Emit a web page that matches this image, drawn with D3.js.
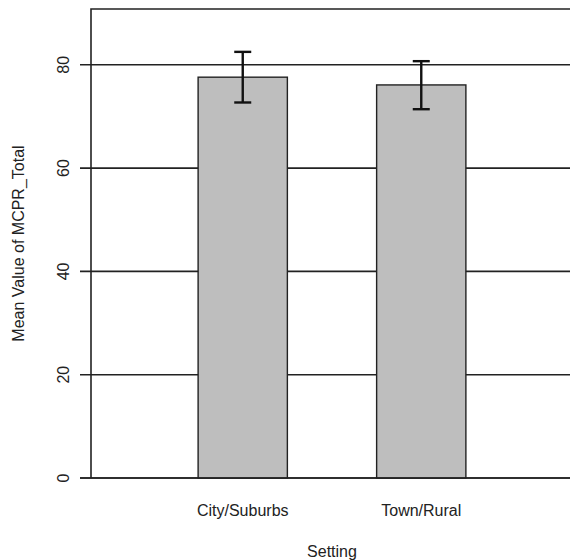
<!DOCTYPE html>
<html lang="en">
<head>
    <meta charset="UTF-8">
    <title>Mean Value of MCPR_Total by Setting</title>
    <script src="https://d3js.org/d3.v7.min.js"></script>
    <style>
        body {
            margin: 0;
            background-color: #fff;
            overflow: hidden;
        }

        text {
            font-family: "Liberation Sans", Arial, sans-serif;
            font-size: 16px;
            fill: #222;
        }

        .grid line, .frame {
            stroke: #222;
            stroke-width: 1.6;
        }

        .bar {
            fill: #bebebe;
            stroke: #222;
            stroke-width: 1.4;
        }

        .err {
            stroke: #111;
            stroke-width: 2.4;
        }
    </style>
</head>
<body>
    <div id="chart"></div>

    <script>
        const settings = ['City/Suburbs', 'Town/Rural'];
        const means = [77.6, 76.1];
        const lower = [72.7, 71.4];
        const upper = [82.5, 80.7];
        const yTicks = [0, 20, 40, 60, 80];

        const width = 570;
        const height = 560;
        const plot = { left: 91, right: 573, top: 9, bottom: 478 };

        const svg = d3.select('#chart').append('svg')
            .attr('width', width)
            .attr('height', height);

        const x = d3.scaleBand()
            .domain(settings)
            .range([plot.left, plot.right])
            .paddingInner(0.5)
            .paddingOuter(0.6);

        const y = d3.scaleLinear()
            .domain([0, 90.8])
            .range([plot.bottom, plot.top]);

        // horizontal grid lines with ticks sticking out to the left
        const grid = svg.append('g').attr('class', 'grid');
        grid.selectAll('line')
            .data(yTicks)
            .join('line')
            .attr('x1', plot.left - 11)
            .attr('x2', width)
            .attr('y1', d => y(d))
            .attr('y2', d => y(d));

        grid.selectAll('text')
            .data(yTicks)
            .join('text')
            .attr('transform', d => `translate(${plot.left - 28},${y(d)}) rotate(-90)`)
            .attr('text-anchor', 'middle')
            .attr('dy', '0.35em')
            .text(d => d);

        // left and top frame
        svg.append('path')
            .attr('class', 'frame')
            .attr('fill', 'none')
            .attr('d', `M${plot.left},${plot.bottom}V${plot.top}H${width}`);

        const data = settings.map((s, i) => ({ s, mean: means[i], lo: lower[i], hi: upper[i] }));

        svg.selectAll('.bar')
            .data(data)
            .join('rect')
            .attr('class', 'bar')
            .attr('x', d => x(d.s))
            .attr('width', x.bandwidth())
            .attr('y', d => y(d.mean))
            .attr('height', d => y(0) - y(d.mean));

        // zero line drawn over the bar bottoms
        svg.append('line')
            .attr('class', 'frame')
            .attr('x1', plot.left - 11)
            .attr('x2', width)
            .attr('y1', y(0))
            .attr('y2', y(0));

        const errs = svg.append('g').selectAll('g')
            .data(data)
            .join('g')
            .attr('class', 'err');

        const cx = d => x(d.s) + x.bandwidth() / 2;
        const cap = 8.5;

        errs.append('line')
            .attr('x1', cx).attr('x2', cx)
            .attr('y1', d => y(d.lo)).attr('y2', d => y(d.hi));
        errs.append('line')
            .attr('x1', d => cx(d) - cap).attr('x2', d => cx(d) + cap)
            .attr('y1', d => y(d.hi)).attr('y2', d => y(d.hi));
        errs.append('line')
            .attr('x1', d => cx(d) - cap).attr('x2', d => cx(d) + cap)
            .attr('y1', d => y(d.lo)).attr('y2', d => y(d.lo));

        // category labels
        svg.append('g').selectAll('text')
            .data(settings)
            .join('text')
            .attr('x', d => x(d) + x.bandwidth() / 2)
            .attr('y', 510)
            .attr('text-anchor', 'middle')
            .attr('dy', '0.35em')
            .text(d => d);

        svg.append('text')
            .attr('x', (plot.left + plot.right) / 2)
            .attr('y', 551)
            .attr('text-anchor', 'middle')
            .attr('dy', '0.35em')
            .text('Setting');

        svg.append('text')
            .attr('transform', `translate(18,${(plot.top + plot.bottom) / 2}) rotate(-90)`)
            .attr('text-anchor', 'middle')
            .attr('dy', '0.35em')
            .text('Mean Value of MCPR_Total');
    </script>
</body>
</html>
